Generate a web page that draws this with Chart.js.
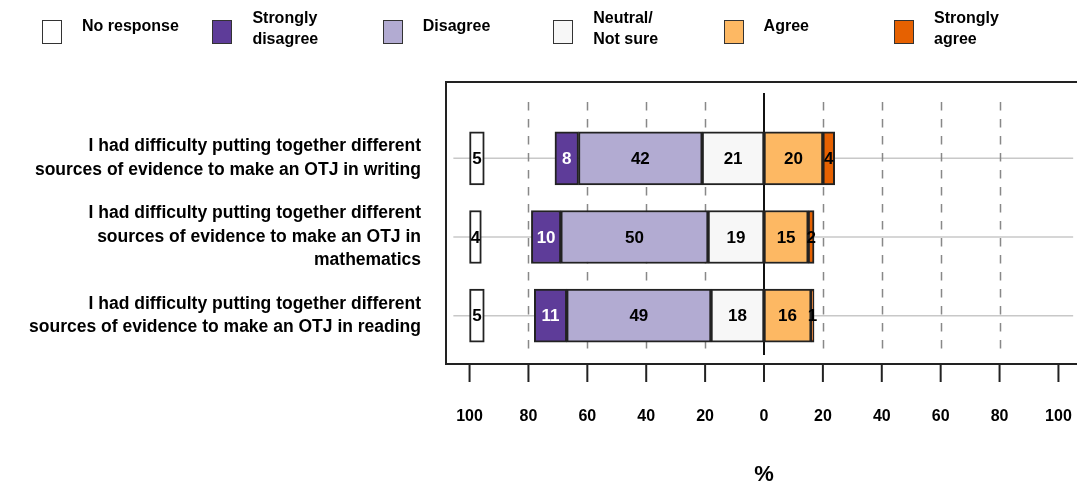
<!DOCTYPE html>
<html>
<head>
<meta charset="utf-8">
<script src="https://cdn.jsdelivr.net/npm/chart.js@4/dist/chart.umd.min.js"></script>
<style>
  html, body { margin: 0; padding: 0; background: #fff; overflow: hidden; width: 1077px; height: 490px; }
  #wrap { position: relative; width: 1082px; height: 490px; }
  canvas { position: absolute; left: 0; top: 0; }
  .leg { position: absolute; font-family: "Liberation Sans", Arial, sans-serif; font-weight: bold; font-size: 16px; color: #000; line-height: 21px; }
  .legbox { position: absolute; width: 18px; height: 22px; border: 1.5px solid #333; top: 20px; }
</style>
</head>
<body>
<div id="wrap">
  <canvas id="c" width="1082" height="490" style="width:1082px;height:490px"></canvas>
  <div id="legend"></div>
</div>
<script>
// ---- data ----
const categories = [
  ["I had difficulty putting together different", "sources of evidence to make an OTJ in writing"],
  ["I had difficulty putting together different", "sources of evidence to make an OTJ in", "mathematics"],
  ["I had difficulty putting together different", "sources of evidence to make an OTJ in reading"]
];
const seriesNames = ["No response", "Strongly\ndisagree", "Disagree", "Neutral/\nNot sure", "Agree", "Strongly\nagree"];
const noResponse       = [5, 4, 5];
const stronglyDisagree = [8, 10, 11];
const disagree         = [42, 50, 49];
const neutral          = [21, 19, 18];
const agree            = [20, 15, 16];
const stronglyAgree    = [4, 2, 1];
const tickValues = [-100, -80, -60, -40, -20, 0, 20, 40, 60, 80, 100];
const colors = ["#ffffff", "#5e3c99", "#b2abd2", "#f7f7f7", "#fdb863", "#e66101"];

// ---- floating ranges built from the data ----
const idx = categories.map((_, i) => i);
const ranges = [
  idx.map(i => [-100, -100 + noResponse[i]]),
  idx.map(i => [-(stronglyDisagree[i] + disagree[i] + neutral[i]), -(disagree[i] + neutral[i])]),
  idx.map(i => [-(disagree[i] + neutral[i]), -neutral[i]]),
  idx.map(i => [-neutral[i], 0]),
  idx.map(i => [0, agree[i]]),
  idx.map(i => [agree[i], agree[i] + stronglyAgree[i]])
];
const values = [noResponse, stronglyDisagree, disagree, neutral, agree, stronglyAgree];

const datasets = ranges.map((r, k) => ({
  label: seriesNames[k].replace("\n", " "),
  data: r,
  backgroundColor: colors[k],
  borderColor: "#222",
  borderWidth: 2,
  borderSkipped: false,
  grouped: false,
  barThickness: 53
}));

// ---- HTML legend ----
const leg = document.getElementById("legend");
seriesNames.forEach((name, k) => {
  const x = 42 + k * 170.4;
  const b = document.createElement("div");
  b.className = "legbox";
  b.style.left = x + "px";
  b.style.background = colors[k];
  leg.appendChild(b);
  const t = document.createElement("div");
  t.className = "leg";
  t.style.left = (x + 40) + "px";
  const lines = name.split("\n");
  t.style.top = (lines.length === 1 ? 15 : 7) + "px";
  t.innerHTML = lines.join("<br>");
  leg.appendChild(t);
});

Chart.defaults.color = "#000";
Chart.defaults.font.family = "'Liberation Sans', Arial, sans-serif";

const decor = {
  id: "decor",
  beforeDatasetsDraw(chart) {
    const ctx = chart.ctx, x = chart.scales.x, y = chart.scales.y;
    const left = chart.chartArea.left, right = chart.chartArea.right;
    const boxTop = 82, boxBottom = 364;
    ctx.save();
    // gray category lines
    ctx.strokeStyle = "#c8c8c8"; ctx.lineWidth = 1.5;
    categories.forEach((_, i) => {
      const py = y.getPixelForValue(i);
      ctx.beginPath(); ctx.moveTo(x.getPixelForValue(-105.5), py); ctx.lineTo(x.getPixelForValue(105), py); ctx.stroke();
    });
    // dashed verticals
    ctx.strokeStyle = "#888"; ctx.lineWidth = 1.5; ctx.setLineDash([8.5, 8.5]);
    tickValues.filter(v => v !== 0 && Math.abs(v) !== 100).forEach(v => {
      const px = Math.round(x.getPixelForValue(v)) + 0.5;
      ctx.beginPath(); ctx.moveTo(px, 102); ctx.lineTo(px, 356); ctx.stroke();
    });
    ctx.setLineDash([]);
    // zero line
    ctx.strokeStyle = "#111"; ctx.lineWidth = 2;
    const zx = x.getPixelForValue(0);
    ctx.beginPath(); ctx.moveTo(zx, 93); ctx.lineTo(zx, 355); ctx.stroke();
    // box
    ctx.strokeStyle = "#222"; ctx.lineWidth = 2;
    ctx.strokeRect(left, boxTop, right - left + 10, boxBottom - boxTop);
    // tick marks
    ctx.lineWidth = 2;
    tickValues.forEach(v => {
      const px = x.getPixelForValue(v);
      ctx.beginPath(); ctx.moveTo(px, boxBottom); ctx.lineTo(px, 382); ctx.stroke();
    });
    ctx.restore();
  },
  afterDatasetsDraw(chart) {
    const ctx = chart.ctx;
    ctx.save();
    ctx.font = "bold 17px 'Liberation Sans', Arial, sans-serif";
    ctx.textAlign = "center"; ctx.textBaseline = "middle";
    chart.data.datasets.forEach((ds, k) => {
      chart.getDatasetMeta(k).data.forEach((el, i) => {
        const cx = (el.x + el.base) / 2;
        ctx.fillStyle = k === 1 ? "#fff" : "#000";
        ctx.fillText(String(values[k][i]), cx, el.y + 1);
      });
    });
    ctx.restore();
  }
};

new Chart(document.getElementById("c"), {
  type: "bar",
  data: { labels: categories, datasets },
  options: {
    indexAxis: "y",
    responsive: false,
    animation: false,
    layout: { padding: { top: 119, right: 0, left: 0, bottom: 0 } },
    plugins: { legend: { display: false }, tooltip: { enabled: false } },
    scales: {
      x: {
        type: "linear", min: -108, max: 108,
        afterBuildTicks: s => { s.ticks = tickValues.map(v => ({ value: v })); },
        afterFit: s => { s.height = 135; s.paddingLeft = 0; s.paddingRight = 0; },
        grid: { display: false, drawTicks: false },
        border: { display: false },
        ticks: { callback: v => String(Math.abs(v)), font: { size: 16, weight: "bold" }, padding: 52, maxRotation: 0, autoSkip: false, color: "#000" },
        title: { display: true, text: "%", font: { size: 22, weight: "bold" }, padding: { top: 36, bottom: 2 }, color: "#000" }
      },
      y: {
        grid: { display: false, drawTicks: false },
        border: { display: false },
        afterFit: s => { s.width = 446; s.paddingTop = 0; s.paddingBottom = 0; },
        ticks: { autoSkip: false, font: { size: 17.5, weight: "bold", lineHeight: 1.35 }, padding: 25, color: "#000" }
      }
    }
  },
  plugins: [decor]
});
</script>
</body>
</html>
